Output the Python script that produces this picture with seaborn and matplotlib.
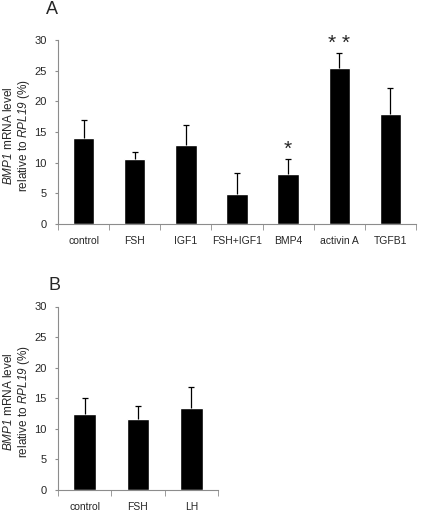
import numpy as np
import pandas as pd
import seaborn as sns
import matplotlib
matplotlib.use("Agg")
from matplotlib import pyplot as plt
from matplotlib.ticker import FixedLocator

# panel A
cats_a = ["control", "FSH", "IGF1", "FSH+IGF1", "BMP4", "activin A", "TGFB1"]
vals_a = [14.0, 10.6, 12.9, 4.9, 8.1, 25.4, 17.9]
err_a = [3.0, 1.2, 3.3, 3.4, 2.5, 2.5, 4.2]
stars_a = ["", "", "", "", "*", "* *", ""]

# panel B
cats_b = ["control", "FSH", "LH"]
vals_b = [12.4, 11.6, 13.4]
err_b = [2.6, 2.1, 3.4]

sns.set_style("white")
plt.rcParams['font.family'] = ['Liberation Sans', 'DejaVu Sans']
plt.rcParams['mathtext.fontset'] = 'custom'
plt.rcParams['mathtext.it'] = 'Liberation Sans:italic'
plt.rcParams['mathtext.rm'] = 'Liberation Sans:italic'

W, H = 421, 511
fig = plt.figure(figsize=(W / 100, H / 100), dpi=100)
ax_a = fig.add_axes([58 / W, 1 - 224 / H, 358 / W, 184 / H])
ax_b = fig.add_axes([58 / W, 1 - 490 / H, 160 / W, 183.5 / H])

GREY = "#8c8c8c"


def draw_panel(ax, cats, vals, errs, stars=None):
    df = pd.DataFrame({"cat": cats, "val": vals})
    sns.barplot(data=df, x="cat", y="val", color="black", width=0.42,
                errorbar=None, ax=ax, saturation=1)
    x = np.arange(len(cats))
    _, caps, _ = ax.errorbar(x, vals, yerr=[np.zeros(len(errs)), errs],
                             fmt="none", ecolor="black", elinewidth=0.9,
                             capsize=2.0, capthick=0.9)
    caps[0].set_visible(False)  # upper error only
    if stars:
        for xi, v, e, s in zip(x, vals, errs, stars):
            if s:
                ax.text(xi, v + e + 0.65, s, ha="center", va="baseline",
                        fontsize=15)
    ax.set_xlim(-0.5, len(cats) - 0.5)
    ax.set_ylim(0, 30)
    ax.set_yticks([0, 5, 10, 15, 20, 25, 30])
    ax.set_xlabel("")
    ax.set_ylabel("$BMP1$ mRNA level\nrelative to $RPL19$ (%)",
                  fontsize=8.5, linespacing=1.1, va="center")
    # place the label centre about 17 px from the left figure edge
    ax_w = ax.get_position().width * W
    ax.yaxis.set_label_coords(-(58 - 17) / ax_w, 0.48)
    for side in ["top", "right"]:
        ax.spines[side].set_visible(False)
    for side in ["left", "bottom"]:
        ax.spines[side].set_color(GREY)
        ax.spines[side].set_linewidth(0.8)
    ax.xaxis.set_minor_locator(FixedLocator(np.arange(len(cats) + 1) - 0.5))
    ax.tick_params(axis="x", which="major", length=0, pad=9, labelsize=7.5)
    ax.tick_params(axis="x", which="minor", length=4, color=GREY,
                   direction="out", bottom=True)
    ax.tick_params(axis="y", length=2, color=GREY, direction="out",
                   left=True, labelsize=8, pad=6)


draw_panel(ax_a, cats_a, vals_a, err_a, stars_a)
draw_panel(ax_b, cats_b, vals_b, err_b)

fig.text(52 / W, 1 - 9 / H, "A", fontsize=13, ha="center", va="center")
fig.text(54 / W, 1 - 285 / H, "B", fontsize=13, ha="center", va="center")

fig.savefig("out.png", dpi=100)
